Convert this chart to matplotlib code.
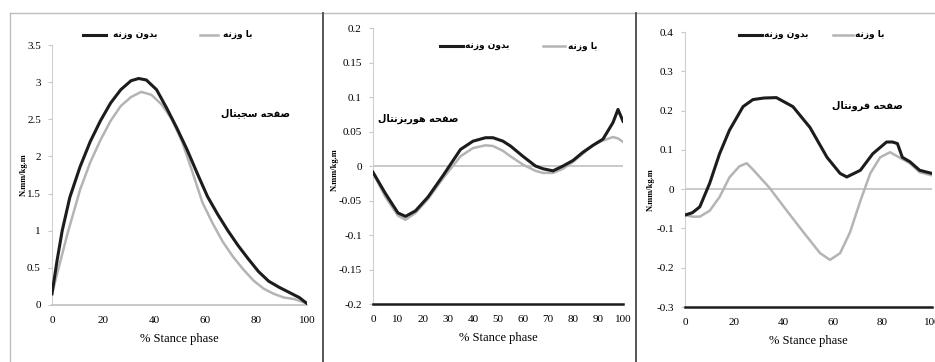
import matplotlib
matplotlib.use("Agg")
import matplotlib.pyplot as plt
from matplotlib.lines import Line2D

# ---- data ----
sag_x = [0, 2, 4, 7, 11, 15, 19, 23, 27, 31, 34, 37, 41, 45, 49, 53, 57, 61, 65, 69, 73, 77, 81,
         85, 89, 93, 97, 100]
sag_no = [0.15, 0.6, 1.0, 1.45, 1.86, 2.2, 2.48, 2.72, 2.9, 3.02, 3.05, 3.03, 2.9, 2.65, 2.38,
          2.09, 1.77, 1.46, 1.22, 1.0, 0.8, 0.62, 0.45, 0.32, 0.24, 0.17, 0.1, 0.02]
sag_w_x = [0, 3, 6, 11, 15, 19, 23, 27, 31, 35, 39, 43, 47, 51, 55, 59, 63, 67, 71, 75, 79, 83,
           87, 91, 95, 100]
sag_w = [0.15, 0.55, 0.95, 1.55, 1.92, 2.22, 2.48, 2.68, 2.8, 2.87, 2.83, 2.7, 2.5, 2.2, 1.8,
         1.38, 1.1, 0.85, 0.65, 0.48, 0.33, 0.22, 0.15, 0.1, 0.08, 0.02]

hor_x = [0, 5, 10, 13, 17, 22, 28, 35, 40, 45, 48, 52, 55, 60, 65, 68, 72, 76, 80, 84, 88, 92, 96,
         98, 100]
hor_no = [-0.009, -0.04, -0.068, -0.073, -0.065, -0.045, -0.014, 0.024, 0.036, 0.041, 0.041, 0.036,
          0.029, 0.014, 0.0, -0.004, -0.007, 0.0, 0.008, 0.02, 0.03, 0.039, 0.063, 0.082, 0.065]
hor_w = [-0.01, -0.045, -0.072, -0.078, -0.068, -0.048, -0.018, 0.014, 0.026, 0.03, 0.029, 0.022,
         0.014, 0.002, -0.007, -0.01, -0.01, -0.004, 0.006, 0.018, 0.03, 0.037, 0.042, 0.04, 0.035]

fro_x = [0, 3, 6, 10, 14, 18, 23.5, 27.5, 32, 37, 43.7, 50.6, 57.5, 62.8, 65.5, 71, 76, 81.6, 84,
         86, 88, 91, 95, 100]
fro_no = [-0.066, -0.06, -0.045, 0.015, 0.09, 0.15, 0.21, 0.228, 0.232, 0.233, 0.21, 0.157, 0.081,
          0.04, 0.031, 0.048, 0.09, 0.12, 0.12, 0.116, 0.081, 0.07, 0.048, 0.04]
fro_w_x = [0, 3, 6, 10, 14, 18, 22, 25, 27.5, 34, 41, 48, 54.7, 58.7, 62.8, 66.8, 71, 75, 79, 83,
           87, 91, 95, 100]
fro_w = [-0.066, -0.07, -0.07, -0.055, -0.02, 0.03, 0.058, 0.066, 0.05, 0.005, -0.053, -0.11,
         -0.163, -0.18, -0.163, -0.11, -0.03, 0.04, 0.081, 0.094, 0.08, 0.066, 0.043, 0.035]

lbl_no = "بدون وزنه"
lbl_w = "با وزنه"
titles = ["صفحه سجیتال", "صفحه هوریزنتال", "صفحه فرونتال"]

# ---- tiny arabic shaper (matplotlib has no shaping / bidi) ----
FORMS = {
    'ا': ('\uFE8D', '\uFE8E', None, None),
    'ب': ('\uFE8F', '\uFE90', '\uFE91', '\uFE92'),
    'ت': ('\uFE95', '\uFE96', '\uFE97', '\uFE98'),
    'ج': ('\uFE9D', '\uFE9E', '\uFE9F', '\uFEA0'),
    'ح': ('\uFEA1', '\uFEA2', '\uFEA3', '\uFEA4'),
    'د': ('\uFEA9', '\uFEAA', None, None),
    'ر': ('\uFEAD', '\uFEAE', None, None),
    'ز': ('\uFEAF', '\uFEB0', None, None),
    'س': ('\uFEB1', '\uFEB2', '\uFEB3', '\uFEB4'),
    'ص': ('\uFEB9', '\uFEBA', '\uFEBB', '\uFEBC'),
    'ف': ('\uFED1', '\uFED2', '\uFED3', '\uFED4'),
    'ل': ('\uFEDD', '\uFEDE', '\uFEDF', '\uFEE0'),
    'ن': ('\uFEE5', '\uFEE6', '\uFEE7', '\uFEE8'),
    'ه': ('\uFEE9', '\uFEEA', '\uFEEB', '\uFEEC'),
    'و': ('\uFEED', '\uFEEE', None, None),
    'ی': ('\uFEF1', '\uFEF2', '\uFEF3', '\uFEF4'),
}


def fa(s):
    out = []
    for i, c in enumerate(s):
        if c not in FORMS:
            out.append(c)
            continue
        prev = s[i - 1] if i > 0 else None
        nxt = s[i + 1] if i + 1 < len(s) else None
        jp = prev in FORMS and FORMS[prev][2] is not None
        jn = nxt in FORMS and FORMS[c][2] is not None
        f = FORMS[c]
        if jp and jn:
            out.append(f[3])
        elif jp:
            out.append(f[1])
        elif jn:
            out.append(f[2])
        else:
            out.append(f[0])
    return "".join(out)[::-1]


plt.rcParams['font.family'] = ['Liberation Serif', 'DejaVu Sans']
BLACK = '#1c1c1c'
GRAY = '#b4b4b4'

fig = plt.figure(figsize=(9.35, 3.62), dpi=100)

panels = [
    dict(pos=[0.0556, 0.1575, 0.2727, 0.718], x=sag_x, a=sag_no, bx=sag_w_x, b=sag_w,
         ylim=(0, 3.5), yt=[0, 0.5, 1, 1.5, 2, 2.5, 3, 3.5], xt=range(0, 101, 20),
         ylab=["0", "0.5", "1", "1.5", "2", "2.5", "3", "3.5"], title_xy=(0.8, 0.74),
         leg=[(0.12, 0.21, 0.24, 1.04), (0.58, 0.65, 0.67, 1.04)], yl=(24, 175)),
    dict(pos=[0.3989, 0.1602, 0.2674, 0.7624], x=hor_x, a=hor_no, bx=hor_x, b=hor_w,
         ylim=(-0.2, 0.2), yt=[-0.2, -0.15, -0.1, -0.05, 0, 0.05, 0.1, 0.15, 0.2],
         xt=range(0, 101, 10),
         ylab=["-0.2", "-0.15", "-0.1", "-0.05", "0", "0.05", "0.1", "0.15", "0.2"],
         title_xy=(0.18, 0.67), leg=[(0.27, 0.36, 0.37, 0.935), (0.68, 0.77, 0.78, 0.935)],
         yl=(335, 170)),
    dict(pos=[0.7326, 0.1519, 0.2642, 0.7597], x=fro_x, a=fro_no, bx=fro_w_x, b=fro_w,
         ylim=(-0.3, 0.4), yt=[-0.3, -0.2, -0.1, 0, 0.1, 0.2, 0.3, 0.4], xt=range(0, 101, 20),
         ylab=["-0.3", "-0.2", "-0.1", "0", "0.1", "0.2", "0.3", "0.4"], title_xy=(0.74, 0.73),
         leg=[(0.22, 0.31, 0.32, 0.99), (0.6, 0.68, 0.69, 0.99)], yl=(651, 190)),
]

for k, p in enumerate(panels):
    ax = fig.add_axes(p['pos'])
    ax.plot(p['x'], p['a'], color=BLACK, lw=2.2, zorder=3)
    ax.plot(p['bx'], p['b'], color=GRAY, lw=1.8, zorder=2)
    ax.set_xlim(0, 100)
    ax.set_ylim(*p['ylim'])
    ax.set_xticks(list(p['xt']))
    ax.set_xticklabels([str(v) for v in p['xt']], fontsize=8)
    ax.set_yticks(p['yt'])
    ax.set_yticklabels(p['ylab'], fontsize=8)
    ax.tick_params(axis='x', length=0, pad=8)
    ax.tick_params(axis='y', length=3, color='#c8c8c8', pad=5)
    for s in ['top', 'right']:
        ax.spines[s].set_visible(False)
    ax.spines['left'].set_color('#d0d0d0')
    if k == 0:
        ax.spines['bottom'].set_color('#c0c0c0')
        ax.spines['bottom'].set_linewidth(1.2)
    else:
        ax.spines['bottom'].set_color(BLACK)
        ax.spines['bottom'].set_linewidth(1.8)
        ax.axhline(0, color='#c0c0c0', lw=1.2, zorder=1)
    ax.set_xlabel("% Stance phase", fontsize=9, labelpad=6)
    ax.patch.set_alpha(0)
    # panel title
    ax.text(p['title_xy'][0], p['title_xy'][1], fa(titles[k]), transform=ax.transAxes,
            family=['DejaVu Sans'], fontsize=7, fontweight='bold', ha='center', va='center')
    # legend drawn as in the source (line + label)
    (x0, x1, tx, ty) = p['leg'][0]
    ax.add_line(Line2D([x0, x1], [ty, ty], transform=ax.transAxes, color=BLACK, lw=2.2,
                       clip_on=False))
    ax.text(tx, ty, fa(lbl_no), transform=ax.transAxes, family=['DejaVu Sans'], fontsize=6.5,
            fontweight='bold', ha='left', va='center')
    (x0, x1, tx, ty) = p['leg'][1]
    ax.add_line(Line2D([x0, x1], [ty, ty], transform=ax.transAxes, color=GRAY, lw=1.8,
                       clip_on=False))
    ax.text(tx, ty, fa(lbl_w), transform=ax.transAxes, family=['DejaVu Sans'], fontsize=6.5,
            fontweight='bold', ha='left', va='center')
    # y label
    fig.text(p['yl'][0] / 935, 1 - p['yl'][1] / 362, "N.mm/kg.m", rotation=90, fontsize=6,
             fontweight='bold', ha='center', va='center')

# chart area borders
fig.add_artist(Line2D([10 / 935, 1], [1 - 13 / 362, 1 - 13 / 362], color='#bdbdbd', lw=1))
fig.add_artist(Line2D([10 / 935, 10 / 935], [0, 1 - 13 / 362], color='#bdbdbd', lw=1))
fig.add_artist(Line2D([323 / 935, 323 / 935], [0, 1 - 13 / 362], color='#555555', lw=1.4))
fig.add_artist(Line2D([636 / 935, 636 / 935], [0, 1 - 13 / 362], color='#555555', lw=1.4))

fig.savefig("out.png", dpi=100)
